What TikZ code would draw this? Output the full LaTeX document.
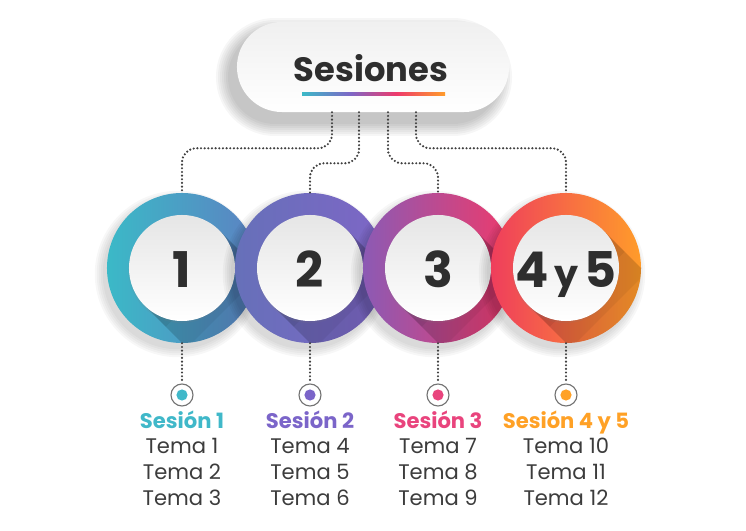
\documentclass[tikz,border=0pt]{standalone}
\usepackage{fontspec}
\setmainfont{Poppins}
\usetikzlibrary{positioning,calc,shapes.misc,shadows}

\definecolor{cTeal}{HTML}{3BB9C7}
\definecolor{cBlue}{HTML}{5C82C2}
\definecolor{cIndigo}{HTML}{6670B9}
\definecolor{cPurple}{HTML}{7E66C6}
\definecolor{cPlum}{HTML}{8C5AB4}
\definecolor{cPink}{HTML}{EE3A6B}
\definecolor{cRed}{HTML}{EF3E5C}
\definecolor{cOrange}{HTML}{FF9C2A}
\definecolor{labTeal}{HTML}{40B8C9}
\definecolor{labPurple}{HTML}{7B65C9}
\definecolor{labPink}{HTML}{E9447D}
\definecolor{labOrange}{HTML}{FFA126}
\definecolor{txtDark}{HTML}{2E2E2E}
\definecolor{txtGray}{HTML}{3C3C3C}

\pgfdeclarehorizontalshading{sesbar}{100bp}{color(0bp)=(cTeal); color(25bp)=(cTeal); color(42bp)=(cPurple); color(58bp)=(cPink); color(75bp)=(cOrange); color(100bp)=(cOrange)}

\begin{document}
\begin{tikzpicture}[x=0.025cm, y=-0.025cm,
    every node/.style={inner sep=0pt},
    dotline/.style={draw=black!75, line width=1.7pt, dash pattern=on 0pt off 2.6pt, line cap=round, rounded corners=10pt},
    pill/.style={rounded rectangle, minimum width=6.8cm, minimum height=2.25cm, top color=black!6, bottom color=white},
    outer/.style={circle, minimum size=3.75cm},
    inner/.style={circle, minimum size=2.65cm, top color=black!10, bottom color=white},
    numtxt/.style={anchor=base, text=txtDark, font=\fontsize{35}{35}\selectfont\bfseries},
    ring/.style={circle, draw=black!55, line width=0.8pt, fill=white, minimum size=0.55cm},
    seslab/.style={anchor=base, font=\fontsize{15}{15}\selectfont\bfseries},
    tema/.style={anchor=base, text=txtGray, font=\fontsize{15}{15}\selectfont}]

  \useasboundingbox (0,0) rectangle (746,531);

  % caja superior
  \foreach \w in {2.35,2.45,...,2.95}
    \draw[black, opacity=.035, line width=\w cm, line cap=round] (275,77) -- (453,77);
  \node[pill] (top) at (373,67) {};
  \node[anchor=base, text=txtDark, font=\fontsize{24}{24}\selectfont\bfseries] (title) at (371,82) {Sesiones};
  \fill[shading=sesbar] (302,93) rectangle (445,95.5);

  % circulos
  \foreach \i/\x/\ca/\cb/\num in {1/182/cTeal/cBlue/1, 2/310/cIndigo/cPurple/2, 3/438/cPlum/cPink/3,
      4/566/cRed/cOrange/{4{\fontsize{27}{27}\selectfont\,y\,}5}}{
    \foreach \r in {1.88,1.93,...,2.08}
      \fill[black, opacity=.03] (\x-4,274) circle (\r cm);
    \node[outer, left color=\ca, right color=\cb] (c\i) at (\x,268) {};
    \begin{scope}
      \clip (c\i) circle (1.875cm);
      \foreach \len in {30,60,95,140}
        \fill[black, opacity=.055] ($(c\i)+(135:53)$) -- ($(c\i)+(-45:53)$) -- ++(45:\len) -- ++(135:106) -- cycle;
    \end{scope}
    \node[inner, drop shadow={opacity=.12, shadow xshift=-.5pt, shadow yshift=-1.5pt}] (n\i) at (\x,268) {};
    \node[numtxt] (m\i) at (\x,288) {\num};
  }

  % conectores
  \coordinate (p1) at ($(top.south)+(-41,0)$);
  \coordinate (p2) at ($(top.south)+(-14,0)$);
  \coordinate (p3) at ($(top.south)+(15,0)$);
  \coordinate (p4) at ($(top.south)+(43,0)$);
  \draw[dotline] (p1) -- ++(0,36) -| (c1.north);
  \draw[dotline] (p2) -- ++(0,51) -| (c2.north);
  \draw[dotline] (p3) -- ++(0,51) -| (c3.north);
  \draw[dotline] (p4) -- ++(0,36) -| (c4.north);

  % sesiones y temas
  \foreach \i/\x/\cl/\lab in {1/182/labTeal/Sesión 1, 2/310/labPurple/Sesión 2,
      3/438/labPink/Sesión 3, 4/566/labOrange/Sesión 4 y 5}{
    \node[ring] (r\i) at (\x,395) {};
    \fill[\cl] (r\i) circle (0.14cm);
    \draw[dotline] (c\i.south) -- (r\i.north);
    \node[seslab, text=\cl] (s\i) at (\x,429) {\lab};
    \foreach \k in {1,2,3}{
      \pgfmathtruncatemacro{\tnum}{3*(\i-1)+\k}
      \node[tema] (t\i-\k) at (\x,{454+26*(\k-1)}) {Tema \tnum};
    }
  }
\end{tikzpicture}
\end{document}
